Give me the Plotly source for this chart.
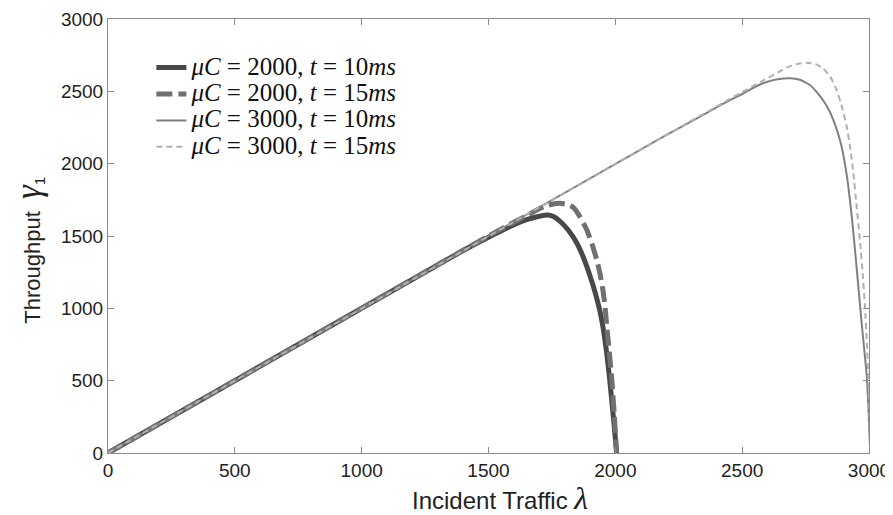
import plotly.graph_objects as go

# Incident traffic (x) and throughput (y)
x_c2000_t10 = [0, 1400, 1500, 1550, 1600, 1650, 1700, 1734, 1760, 1782, 1815, 1848, 1875, 1900,
               1922, 1940, 1955, 1966, 1977, 1986, 1996, 2005]
y_c2000_t10 = [0, 1400, 1492, 1535, 1578, 1613, 1637, 1645, 1632, 1602, 1540, 1452, 1348, 1225,
               1100, 975, 830, 690, 520, 360, 180, 0]

x_c2000_t15 = [0, 1500, 1600, 1650, 1700, 1729, 1760, 1782, 1810, 1834, 1860, 1887, 1908, 1927,
               1940, 1952, 1960, 1966, 1976, 1986, 1996, 2005]
y_c2000_t15 = [0, 1500, 1595, 1640, 1688, 1710, 1723, 1726, 1718, 1698, 1635, 1545, 1445, 1334,
               1235, 1115, 1000, 880, 700, 510, 260, 0]

x_c3000_t10 = [0, 2200, 2334, 2420, 2504, 2550, 2597, 2640, 2688, 2730, 2767, 2800, 2833, 2860,
               2886, 2903, 2919, 2933, 2945, 2958, 2971, 2981, 2991, 2998, 3005]
y_c3000_t10 = [0, 2198, 2325, 2410, 2485, 2530, 2565, 2583, 2590, 2578, 2544, 2482, 2400, 2300,
               2160, 2020, 1835, 1620, 1400, 1150, 900, 720, 540, 300, 0]

x_c3000_t15 = [0, 2500, 2597, 2640, 2676, 2715, 2754, 2790, 2819, 2848, 2872, 2893, 2912, 2926,
               2938, 2951, 2964, 2975, 2984, 2991, 2997, 3001, 3005]
y_c3000_t15 = [0, 2495, 2588, 2630, 2665, 2688, 2698, 2688, 2659, 2600, 2512, 2395, 2258, 2110,
               1940, 1710, 1475, 1240, 1011, 780, 551, 280, 0]

x_ticks = [0, 500, 1000, 1500, 2000, 2500, 3000]
y_ticks = [0, 500, 1000, 1500, 2000, 2500, 3000]

names = [
    "<i>μC</i> = 2000, <i>t</i> = 10<i>ms</i>",
    "<i>μC</i> = 2000, <i>t</i> = 15<i>ms</i>",
    "<i>μC</i> = 3000, <i>t</i> = 10<i>ms</i>",
    "<i>μC</i> = 3000, <i>t</i> = 15<i>ms</i>",
]
big = "<span style='font-size:25px'>{}</span>"

x_title = "Incident Traffic <span style='font-family:Liberation Serif;font-size:32px'><i>λ</i></span>"
y_title = ("Throughput&nbsp;&nbsp;<span style='font-family:Liberation Serif;font-size:35px'><i>γ</i></span>"
           "<sub>1</sub>")

fig = go.Figure()
fig.add_trace(go.Scatter(x=x_c2000_t10, y=y_c2000_t10, mode="lines", name=big.format(names[0]),
                         line=dict(color="#484848", width=5, shape="spline", smoothing=0.4)))
fig.add_trace(go.Scatter(x=x_c2000_t15, y=y_c2000_t15, mode="lines", name=big.format(names[1]),
                         line=dict(color="#707070", width=5, dash="16px,6px", shape="spline", smoothing=0.4)))
fig.add_trace(go.Scatter(x=x_c3000_t10, y=y_c3000_t10, mode="lines", name=big.format(names[2]),
                         line=dict(color="#808080", width=2, shape="spline", smoothing=0.4)))
fig.add_trace(go.Scatter(x=x_c3000_t15, y=y_c3000_t15, mode="lines", name=big.format(names[3]),
                         line=dict(color="#b0b0b0", width=2, dash="6px,4px", shape="spline", smoothing=0.4)))

axis_common = dict(
    showline=True, linecolor="#8a8a8a", linewidth=1, mirror="ticks", automargin=False,
    ticks="inside", ticklen=6, tickcolor="#8a8a8a", showgrid=False, zeroline=False,
    tickfont=dict(family="Liberation Sans", size=19, color="#222222"),
)

# page body adds an 8px offset, so the figure is 8px smaller and margins compensate
fig.update_layout(
    width=885, height=507,
    margin=dict(l=100, r=24, t=11, b=62),
    paper_bgcolor="white", plot_bgcolor="white",
    showlegend=True,
    legend=dict(x=0.057, y=0.930, xanchor="left", yanchor="top",
                bgcolor="rgba(0,0,0,0)",
                font=dict(family="Liberation Serif", size=18, color="#111111"),
                tracegroupgap=0),
    xaxis=dict(range=[0, 3000], tickvals=x_ticks, ticktext=[str(v) for v in x_ticks], **axis_common),
    yaxis=dict(range=[0, 3000], tickvals=y_ticks, ticktext=[str(v) for v in y_ticks], **axis_common),
    annotations=[
        dict(text=x_title, xref="paper", yref="paper", x=0.515, y=-0.103,
             xanchor="center", yanchor="middle", showarrow=False,
             font=dict(family="Liberation Sans", size=24, color="#222222")),
        dict(text=y_title, xref="paper", yref="paper", x=-0.104, y=0.468, textangle=-90,
             xanchor="center", yanchor="middle", showarrow=False,
             font=dict(family="Liberation Sans", size=22, color="#222222")),
    ],
)

fig.write_html("out.html")
